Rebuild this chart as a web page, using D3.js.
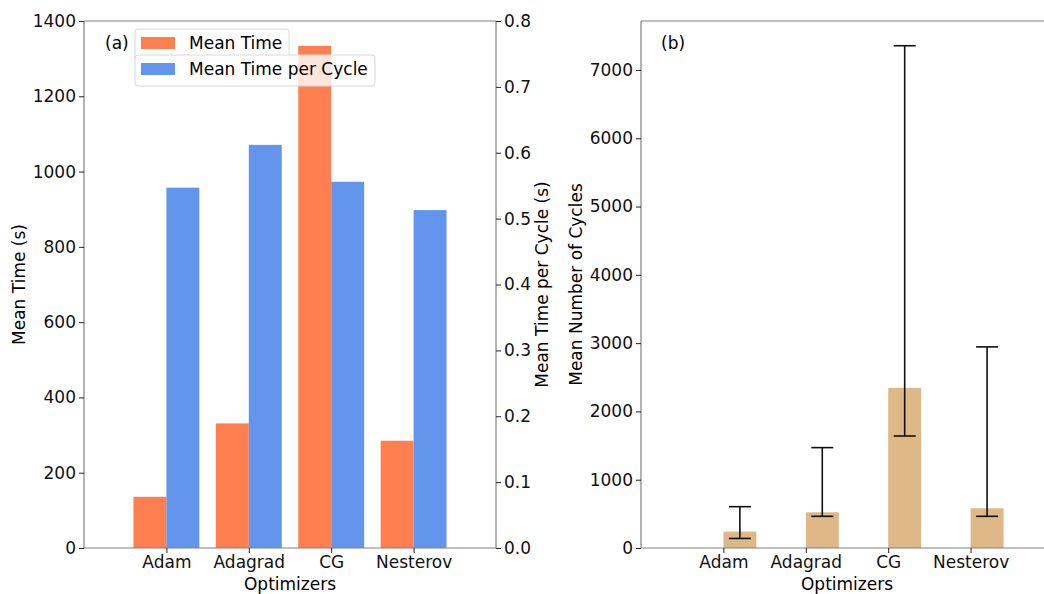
<!DOCTYPE html>
<html>
<head>
<meta charset="utf-8">
<script src="https://cdn.jsdelivr.net/npm/d3@7"></script>
<style>
  body { margin: 0; background: #fff; }
  svg { font-family: "DejaVu Sans", sans-serif; }
  .axis path, .axis line { stroke: #222; }
  .axis text { font-family: "DejaVu Sans", sans-serif; font-size: 17px; fill: #111; }
</style>
</head>
<body>
<div id="chart"></div>
<script>
// data
const optimizers = ['Adam', 'Adagrad', 'CG', 'Nesterov'];
const meanTime = [136, 331, 1334, 285];
const meanTimePerCycle = [0.547, 0.612, 0.556, 0.513];
const meanCycles = [240, 523, 2345, 582];
const cyclesLower = [140, 464, 1640, 464];
const cyclesUpper = [605, 1470, 7355, 2945];

const leftTicks = [0, 200, 400, 600, 800, 1000, 1200, 1400];
const rightTicks = [0, 0.1, 0.2, 0.3, 0.4, 0.5, 0.6, 0.7, 0.8];
const cycleTicks = [0, 1000, 2000, 3000, 4000, 5000, 6000, 7000];

const W = 1044, H = 594;
const plotTop = 21, plotBottom = 548;
const barW = 0.4;
const fs = 17;

const svg = d3.select('#chart').append('svg')
    .attr('width', W)
    .attr('height', H);

function spines(g, x0, x1, withRight) {
    const s = g.append('g').attr('stroke', '#808080').attr('stroke-width', 1.2).attr('fill', 'none');
    s.append('line').attr('x1', x0).attr('x2', x1).attr('y1', plotTop).attr('y2', plotTop);
    s.append('line').attr('x1', x0).attr('x2', x1).attr('y1', plotBottom).attr('y2', plotBottom);
    s.append('line').attr('x1', x0).attr('x2', x0).attr('y1', plotTop).attr('y2', plotBottom);
    if (withRight) s.append('line').attr('x1', x1).attr('x2', x1).attr('y1', plotTop).attr('y2', plotBottom);
}

function styleAxis(sel) {
    sel.attr('class', 'axis').attr('font-family', null).attr('font-size', null);
    sel.select('.domain').remove();
    sel.selectAll('.tick line').attr('stroke', '#222');
}

// ---------- panel (a) ----------
const xa = d3.scaleLinear().domain([-1, 4]).range([84, 496]);
const ya = d3.scaleLinear().domain([0, 1400]).range([plotBottom, plotTop]);
const ya2 = d3.scaleLinear().domain([0, 0.8]).range([plotBottom, plotTop]);

const ga = svg.append('g');

ga.selectAll('rect.time')
    .data(optimizers)
    .enter().append('rect')
    .attr('class', 'time')
    .attr('x', (d, i) => xa(i - barW))
    .attr('width', (d, i) => xa(i) - xa(i - barW))
    .attr('y', (d, i) => ya(meanTime[i]))
    .attr('height', (d, i) => ya(0) - ya(meanTime[i]))
    .attr('fill', '#ff7f50');

ga.selectAll('rect.cycle')
    .data(optimizers)
    .enter().append('rect')
    .attr('class', 'cycle')
    .attr('x', (d, i) => xa(i))
    .attr('width', (d, i) => xa(i + barW) - xa(i))
    .attr('y', (d, i) => ya2(meanTimePerCycle[i]))
    .attr('height', (d, i) => ya2(0) - ya2(meanTimePerCycle[i]))
    .attr('fill', '#6495ed');

spines(ga, 84, 496, true);

ga.append('g')
    .attr('transform', `translate(84,0)`)
    .call(d3.axisLeft(ya).tickValues(leftTicks).tickSize(5).tickPadding(3).tickFormat(d3.format('d')))
    .call(styleAxis);

ga.append('g')
    .attr('transform', `translate(496,0)`)
    .call(d3.axisRight(ya2).tickValues(rightTicks).tickSize(5).tickPadding(3).tickFormat(d3.format('.1f')))
    .call(styleAxis);

ga.append('g')
    .attr('transform', `translate(0,${plotBottom})`)
    .call(d3.axisBottom(xa).tickValues(d3.range(optimizers.length)).tickSize(5).tickPadding(3).tickFormat(i => optimizers[i]))
    .call(styleAxis);

ga.append('text').attr('x', 290).attr('y', 590).attr('text-anchor', 'middle')
    .attr('font-size', fs).text('Optimizers');
ga.append('text').attr('transform', 'translate(25,284.5) rotate(-90)').attr('text-anchor', 'middle')
    .attr('font-size', fs).text('Mean Time (s)');
ga.append('text').attr('transform', 'translate(548,284.5) rotate(-90)').attr('text-anchor', 'middle')
    .attr('font-size', fs).text('Mean Time per Cycle (s)');
ga.append('text').attr('x', 105).attr('y', 49).attr('font-size', fs).text('(a)');

// legends (two separate boxes, second one on top)
function legend(g, x, y, w, h, color, label) {
    const lg = g.append('g');
    lg.append('rect').attr('x', x).attr('y', y).attr('width', w).attr('height', h)
        .attr('rx', 3).attr('fill', '#fff').attr('fill-opacity', 0.8)
        .attr('stroke', '#d8d8d8').attr('stroke-width', 1);
    lg.append('rect').attr('x', x + 6).attr('y', y + 8).attr('width', 34).attr('height', 12)
        .attr('fill', color);
    lg.append('text').attr('x', x + 54).attr('y', y + 20).attr('font-size', fs).text(label);
}
legend(ga, 135, 29, 154, 31, '#ff7f50', 'Mean Time');
legend(ga, 135, 55, 240, 31, '#6495ed', 'Mean Time per Cycle');

// ---------- panel (b) ----------
const xb = d3.scaleLinear().domain([-1, 4]).range([641, 1053]);
const yb = d3.scaleLinear().domain([0, 7717]).range([plotBottom, plotTop]);

const gb = svg.append('g');

gb.selectAll('rect.cyc')
    .data(optimizers)
    .enter().append('rect')
    .attr('class', 'cyc')
    .attr('x', (d, i) => xb(i))
    .attr('width', (d, i) => xb(i + barW) - xb(i))
    .attr('y', (d, i) => yb(meanCycles[i]))
    .attr('height', (d, i) => yb(0) - yb(meanCycles[i]))
    .attr('fill', '#deb887');

const err = gb.append('g').attr('stroke', '#111').attr('stroke-width', 1.6);
optimizers.forEach((d, i) => {
    const cx = xb(i + barW / 2);
    err.append('line').attr('x1', cx).attr('x2', cx)
        .attr('y1', yb(cyclesLower[i])).attr('y2', yb(cyclesUpper[i]));
    [cyclesLower[i], cyclesUpper[i]].forEach(v => {
        err.append('line').attr('x1', cx - 11).attr('x2', cx + 11)
            .attr('y1', yb(v)).attr('y2', yb(v));
    });
});

spines(gb, 641, 1053, false);

gb.append('g')
    .attr('transform', `translate(641,0)`)
    .call(d3.axisLeft(yb).tickValues(cycleTicks).tickSize(5).tickPadding(3).tickFormat(d3.format('d')))
    .call(styleAxis);

gb.append('g')
    .attr('transform', `translate(0,${plotBottom})`)
    .call(d3.axisBottom(xb).tickValues(d3.range(optimizers.length)).tickSize(5).tickPadding(3).tickFormat(i => optimizers[i]))
    .call(styleAxis);

gb.append('text').attr('x', 847).attr('y', 590).attr('text-anchor', 'middle')
    .attr('font-size', fs).text('Optimizers');
gb.append('text').attr('transform', 'translate(582,284.5) rotate(-90)').attr('text-anchor', 'middle')
    .attr('font-size', fs).text('Mean Number of Cycles');
gb.append('text').attr('x', 661).attr('y', 49).attr('font-size', fs).text('(b)');
</script>
</body>
</html>
